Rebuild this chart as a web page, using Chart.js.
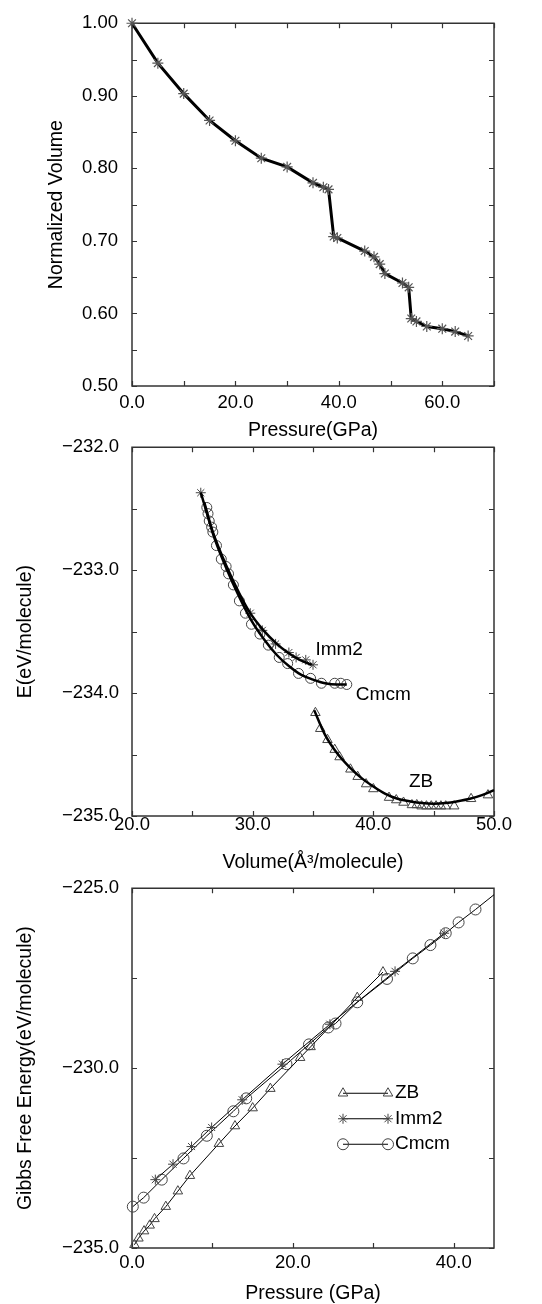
<!DOCTYPE html>
<html>
<head>
<meta charset="utf-8">
<script src="https://cdn.jsdelivr.net/npm/chart.js"></script>
<style>
  html, body { margin: 0; padding: 0; background: #fff; }
  body { width: 542px; height: 1304px; position: relative; overflow: hidden; }
  canvas { position: absolute; left: 0; }
</style>
</head>
<body>
<canvas id="volChart" width="542" height="440" style="top:0px"></canvas>
<canvas id="energyChart" width="542" height="447" style="top:425px"></canvas>
<canvas id="gibbsChart" width="542" height="438" style="top:866px"></canvas>
<script>
// ---- panel 1 : normalized volume vs pressure ----
const pressureV = [0, 5, 10, 15, 20, 25, 30, 35, 37, 38, 39, 39.7, 45, 46.8, 47.9, 48.9, 52.3, 53.5, 54, 55, 57, 60, 62.5, 65];
const normVolume = [1.000, 0.945, 0.903, 0.866, 0.838, 0.814, 0.802, 0.780, 0.774, 0.771, 0.706, 0.704, 0.686, 0.678, 0.668, 0.655, 0.642, 0.636, 0.593, 0.589, 0.582, 0.579, 0.575, 0.569];

// ---- panel 2 : energy vs volume (markers = calculated, lines = fits) ----
const imm2Vol = [25.7, 29.8, 30.8, 31.9, 33.0, 33.6, 34.4, 35.0];
const imm2E = [-232.37, -233.35, -233.49, -233.60, -233.67, -233.71, -233.73, -233.77];
const cmcmVol = [26.2, 26.3, 26.4, 26.6, 26.7, 27.0, 27.4, 27.8, 28.0, 28.4, 28.9, 29.4, 29.9, 30.6, 31.3, 32.2, 32.9, 33.8, 34.8, 35.7, 36.8, 37.3, 37.8];
const cmcmE = [-232.49, -232.54, -232.60, -232.65, -232.69, -232.80, -232.91, -232.97, -233.03, -233.12, -233.25, -233.35, -233.44, -233.52, -233.61, -233.71, -233.76, -233.84, -233.88, -233.92, -233.92, -233.92, -233.93];
const zbVol = [35.2, 35.6, 36.2, 36.8, 37.2, 38.1, 38.7, 39.4, 40.0, 41.3, 41.9, 42.5, 43.2, 43.6, 44.0, 44.4, 44.8, 45.2, 45.6, 46.0, 46.7, 48.1, 49.5];
const zbE = [-234.16, -234.29, -234.38, -234.46, -234.52, -234.62, -234.68, -234.74, -234.78, -234.85, -234.87, -234.89, -234.91, -234.91, -234.92, -234.92, -234.92, -234.92, -234.92, -234.92, -234.92, -234.86, -234.83];

const imm2FitVol = [25.7, 26.7, 27.8, 28.9, 29.8, 30.9, 32.0, 32.9, 33.9, 34.9];
const imm2FitE = [-232.37, -232.69, -232.96, -233.19, -233.35, -233.49, -233.60, -233.67, -233.73, -233.77];
const cmcmFitVol = [26.0, 26.7, 27.8, 28.9, 29.9, 31.0, 32.0, 33.0, 34.0, 35.0, 36.0, 37.0, 37.8];
const cmcmFitE = [-232.45, -232.70, -232.98, -233.22, -233.41, -233.57, -233.69, -233.78, -233.85, -233.89, -233.92, -233.93, -233.93];
const zbFitVol = [35.1, 36.0, 37.0, 38.0, 39.0, 40.0, 41.0, 42.0, 43.0, 44.0, 45.0, 46.0, 47.0, 48.0, 49.0, 50.0];
const zbFitE = [-234.14, -234.34, -234.49, -234.60, -234.69, -234.76, -234.82, -234.86, -234.88, -234.895, -234.90, -234.895, -234.88, -234.86, -234.83, -234.79];

const phaseLabels = ['Imm2', 'Cmcm', 'ZB'];
const labelVol = [35.2, 38.55, 42.95];
const labelE = [-233.65, -234.01, -234.72];

// ---- panel 3 : Gibbs free energy vs pressure ----
const zbP = [0.3, 0.8, 1.5, 2.2, 2.8, 4.2, 5.7, 7.2, 10.8, 12.8, 15.0, 17.2, 20.9, 22.2, 28.0, 31.2];
const zbG = [-234.91, -234.73, -234.53, -234.37, -234.19, -233.85, -233.42, -232.99, -232.10, -231.61, -231.11, -230.57, -229.71, -229.41, -228.04, -227.33];
const imm2P = [2.9, 5.1, 7.4, 9.9, 13.7, 18.7, 24.6, 32.7, 38.8];
const imm2G = [-233.10, -232.67, -232.18, -231.65, -230.88, -229.89, -228.78, -227.31, -226.25];
const cmcmP = [0.1, 1.45, 3.7, 6.4, 9.3, 12.6, 14.2, 19.2, 22.0, 24.4, 25.3, 28.0, 31.7, 34.9, 37.1, 39.0, 40.6, 42.7, 45.0];
const cmcmG = [-233.85, -233.60, -233.10, -232.51, -231.88, -231.20, -230.84, -229.89, -229.34, -228.87, -228.76, -228.17, -227.52, -226.95, -226.58, -226.25, -225.95, -225.59, -225.18];

const FONT = "'Liberation Sans', Arial, Helvetica, sans-serif";
const MARK = '#444';

const pts = (xs, ys) => xs.map((x, i) => ({ x: x, y: ys[i] }));

// only the major ticks get a label, minus sign as in the figure
function tickFmt(major, digits) {
  return (v) => {
    const r = v / major;
    if (Math.abs(r - Math.round(r)) > 1e-6) return '';
    return (v < 0 ? '\u2212' : '') + Math.abs(v).toFixed(digits);
  };
}

function axis(o) {
  return {
    type: 'linear',
    min: o.min,
    max: o.max,
    grid: { display: false, drawTicks: false },
    border: { display: false },
    ticks: {
      stepSize: o.step,
      autoSkip: false,
      includeBounds: false,
      maxRotation: 0,
      padding: o.pad,
      color: '#000',
      font: { family: FONT, size: 18.5, lineHeight: 1 },
      callback: tickFmt(o.major, o.digits),
    },
    title: {
      display: true,
      text: o.title,
      color: '#000',
      font: { family: FONT, size: 19.5, lineHeight: 1 },
      padding: o.titlePad,
    },
    afterFit: o.fit,
  };
}

// box around the plot + inward ticks on all four sides
const framePlugin = {
  id: 'frame',
  beforeDatasetsDraw(chart) {
    const { ctx, chartArea: a, scales } = chart;
    ctx.save();
    ctx.strokeStyle = '#333';
    ctx.lineWidth = 1.5;
    ctx.strokeRect(a.left, a.top, a.right - a.left, a.bottom - a.top);
    ctx.lineWidth = 1.2;
    ctx.beginPath();
    scales.x.ticks.forEach((t) => {
      const px = Math.round(scales.x.getPixelForValue(t.value)) + 0.5;
      ctx.moveTo(px, a.bottom); ctx.lineTo(px, a.bottom - 5);
      ctx.moveTo(px, a.top); ctx.lineTo(px, a.top + 5);
    });
    scales.y.ticks.forEach((t) => {
      const py = Math.round(scales.y.getPixelForValue(t.value)) + 0.5;
      ctx.moveTo(a.left, py); ctx.lineTo(a.left + 5, py);
      ctx.moveTo(a.right, py); ctx.lineTo(a.right - 5, py);
    });
    ctx.stroke();
    ctx.restore();
  },
};

// phase names written next to the curves (panel 2)
const curveLabels = {
  id: 'curveLabels',
  afterDatasetsDraw(chart) {
    const { ctx, scales } = chart;
    ctx.save();
    ctx.fillStyle = '#000';
    ctx.font = '19px ' + FONT;
    ctx.textAlign = 'left';
    ctx.textBaseline = 'middle';
    phaseLabels.forEach((t, i) => {
      ctx.fillText(t, scales.x.getPixelForValue(labelVol[i]), scales.y.getPixelForValue(labelE[i]));
    });
    ctx.restore();
  },
};

// grace-style legend: marker - line - marker, then name (panel 3)
const legendStyles = [['ZB', 'triangle', 5.5], ['Imm2', 'star', 5], ['Cmcm', 'circle', 5.5]];
const gibbsLegend = {
  id: 'gibbsLegend',
  afterDraw(chart) {
    const { ctx, chartArea: a } = chart;
    const x1 = a.left + 211, x2 = a.left + 256;
    ctx.save();
    legendStyles.forEach(([name, style, r], i) => {
      const y = a.top + 205 + i * 25.5;
      ctx.strokeStyle = '#000';
      ctx.lineWidth = 1;
      ctx.beginPath();
      ctx.moveTo(x1, y); ctx.lineTo(x2, y);
      ctx.stroke();
      ctx.strokeStyle = MARK;
      ctx.fillStyle = 'rgba(0,0,0,0)';
      [x1, x2].forEach((x) => {
        Chart.helpers.drawPoint(ctx, { pointStyle: style, radius: r, rotation: 0, borderWidth: 1 }, x, y);
      });
      ctx.fillStyle = '#000';
      ctx.font = '19px ' + FONT;
      ctx.textAlign = 'left';
      ctx.textBaseline = 'middle';
      ctx.fillText(name, x2 + 7, y);
    });
    ctx.restore();
  },
};

const common = {
  responsive: false,
  animation: false,
  plugins: { legend: { display: false }, tooltip: { enabled: false } },
};

// ---- chart 1 ----
new Chart(document.getElementById('volChart'), {
  type: 'scatter',
  data: {
    datasets: [{
      data: pts(pressureV, normVolume),
      showLine: true,
      borderColor: '#000',
      borderWidth: 3,
      tension: 0,
      clip: false,
      pointStyle: 'star',
      pointRadius: 5.5,
      pointBorderColor: '#555',
      pointBorderWidth: 1.2,
      pointBackgroundColor: 'rgba(0,0,0,0)',
    }],
  },
  options: {
    ...common,
    layout: { padding: { top: 16, right: 48, left: 0, bottom: 0 } },
    scales: {
      x: axis({ min: 0, max: 70, step: 10, major: 20, digits: 1, pad: 8, title: 'Pressure(GPa)', titlePad: { top: 0, bottom: 0 }, fit: (s) => { s.height = 54; } }),
      y: axis({ min: 0.5, max: 1.0, step: 0.05, major: 0.1, digits: 2, pad: 14, title: 'Normalized Volume', titlePad: { top: 47, bottom: 0 }, fit: (s) => { s.width = 132; } }),
    },
  },
  plugins: [framePlugin],
});

// ---- chart 2 ----
const fitLine = (xs, ys) => ({
  data: pts(xs, ys),
  showLine: true,
  borderColor: '#000',
  borderWidth: 2.5,
  cubicInterpolationMode: 'monotone',
  pointRadius: 0,
  clip: false,
  order: 0,
});
const markers = (xs, ys, style, r) => ({
  data: pts(xs, ys),
  showLine: false,
  pointStyle: style,
  pointRadius: r,
  pointBorderColor: MARK,
  pointBorderWidth: 1,
  pointBackgroundColor: 'rgba(0,0,0,0)',
  clip: false,
  order: 1,
});

new Chart(document.getElementById('energyChart'), {
  type: 'scatter',
  data: {
    datasets: [
      fitLine(imm2FitVol, imm2FitE),
      fitLine(cmcmFitVol, cmcmFitE),
      fitLine(zbFitVol, zbFitE),
      markers(cmcmVol, cmcmE, 'circle', 5),
      markers(imm2Vol, imm2E, 'star', 5),
      markers(zbVol, zbE, 'triangle', 5.5),
    ],
  },
  options: {
    ...common,
    layout: { padding: { top: 22, right: 48, left: 0, bottom: 0 } },
    scales: {
      x: axis({ min: 20, max: 50, step: 5, major: 10, digits: 1, pad: 0, title: 'Volume(Å³/molecule)', titlePad: { top: 0, bottom: 0 }, fit: (s) => { s.height = 56; } }),
      y: axis({ min: -235, max: -232, step: 0.5, major: 1, digits: 1, pad: 13, title: 'E(eV/molecule)', titlePad: { top: 16, bottom: 0 }, fit: (s) => { s.width = 132; } }),
    },
  },
  plugins: [framePlugin, curveLabels],
});

// ---- chart 3 ----
const gibbsSet = (xs, ys, style, r) => ({
  data: pts(xs, ys),
  showLine: true,
  borderColor: '#000',
  borderWidth: 1,
  tension: 0,
  pointStyle: style,
  pointRadius: r,
  pointBorderColor: MARK,
  pointBorderWidth: 1,
  pointBackgroundColor: 'rgba(0,0,0,0)',
  clip: false,
});

// last Cmcm value is where the line leaves the frame, no symbol there
const cmcmRadius = cmcmP.map((p, i) => (i === cmcmP.length - 1 ? 0 : 5.5));

new Chart(document.getElementById('gibbsChart'), {
  type: 'scatter',
  data: {
    datasets: [
      gibbsSet(zbP, zbG, 'triangle', 5.5),
      gibbsSet(imm2P, imm2G, 'star', 5),
      gibbsSet(cmcmP, cmcmG, 'circle', cmcmRadius),
    ],
  },
  options: {
    ...common,
    layout: { padding: { top: 14, right: 48, left: 0, bottom: 0 } },
    scales: {
      x: axis({ min: 0, max: 45, step: 10, major: 20, digits: 1, pad: 6, title: 'Pressure (GPa)', titlePad: { top: 0, bottom: 1 }, fit: (s) => { s.height = 56; } }),
      y: axis({ min: -235, max: -225, step: 2.5, major: 5, digits: 1, pad: 13, title: 'Gibbs Free Energy(eV/molecule)', titlePad: { top: 16, bottom: 0 }, fit: (s) => { s.width = 132; } }),
    },
  },
  plugins: [framePlugin, gibbsLegend],
});
</script>
</body>
</html>
